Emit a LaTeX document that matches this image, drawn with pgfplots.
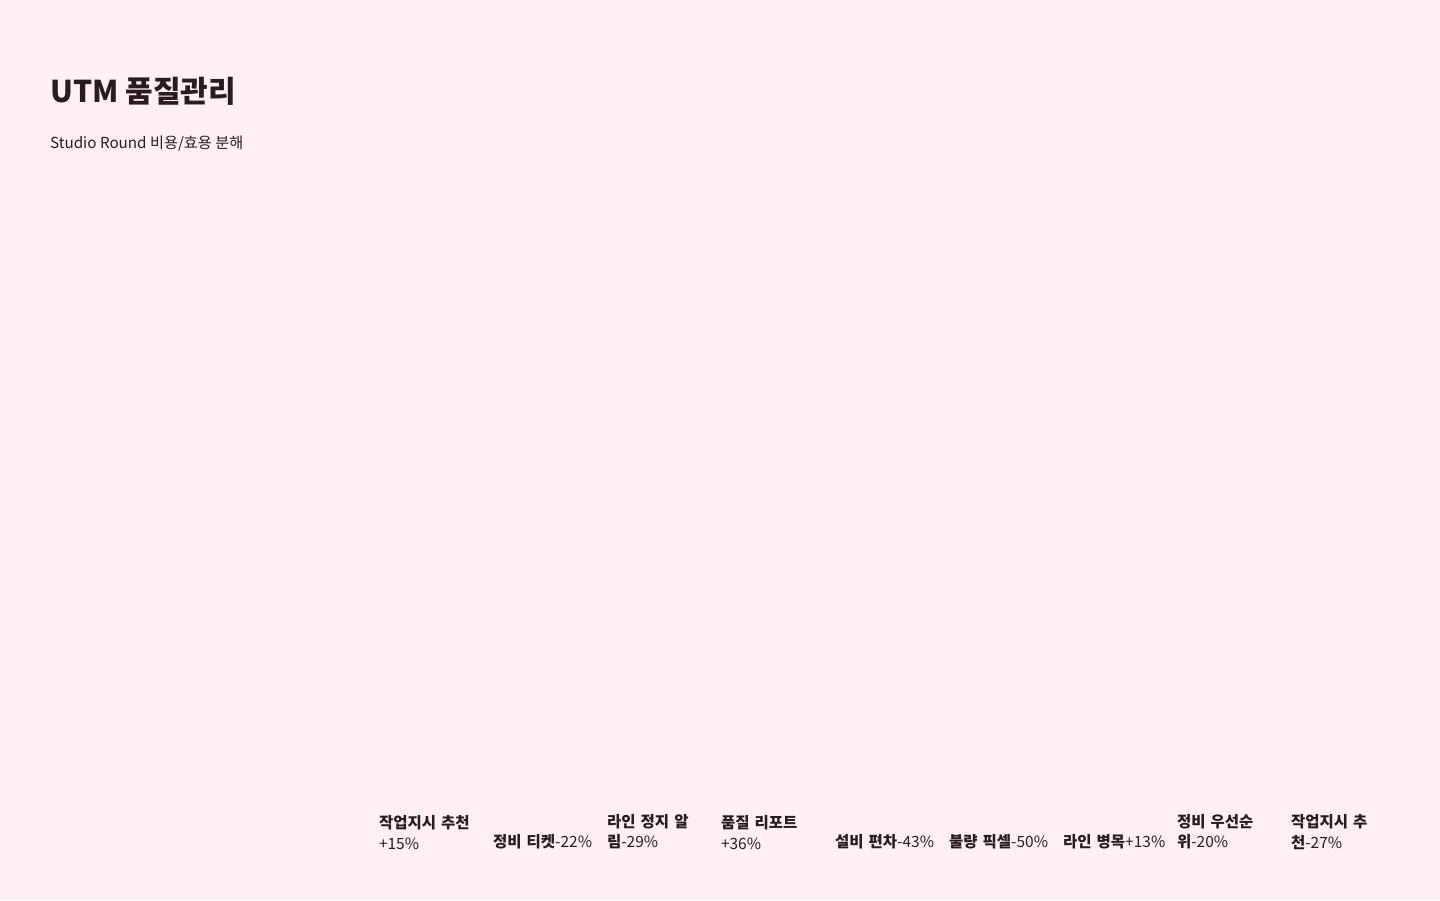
\documentclass[border=0pt]{standalone}
\usepackage{fontspec}
\setmainfont{Noto Sans CJK KR}
\usepackage{pgfplots}
\pgfplotsset{compat=1.18}
\definecolor{bg}{HTML}{FFF0F3}
\definecolor{ink}{HTML}{2A1A22}
\begin{document}
\begin{tikzpicture}[x=1bp,y=1bp]
  \fill[bg] (0,0) rectangle (1440,900);
  \node[anchor=base west, inner sep=0, text=ink,
        font=\fontsize{30bp}{36bp}\selectfont\bfseries] at (50,797) {UTM 품질관리};
  \node[anchor=base west, inner sep=0, text=ink,
        font=\fontsize{15.2bp}{20bp}\selectfont] at (50,751) {Studio Round 비용/효용 분해};
  \begin{axis}[
      at={(375bp,50.5bp)}, anchor=south west,
      width=1026bp, height=670bp, scale only axis,
      xmin=-0.5, xmax=8.5, ymin=-60, ymax=60,
      axis line style={draw=none}, tick style={draw=none},
      ytick=\empty,
      xtick={0,...,8},
      xticklabels={
        {\textbf{작업지시 추천}\\+15\%},
        {\textbf{정비 티켓}-22\%},
        {\textbf{라인 정지 알}\\\textbf{림}-29\%},
        {\textbf{품질 리포트}\\+36\%},
        {\textbf{설비 편차}-43\%},
        {\textbf{불량 픽셀}-50\%},
        {\textbf{라인 병목}+13\%},
        {\textbf{정비 우선순}\\\textbf{위}-20\%},
        {\textbf{작업지시 추}\\\textbf{천}-27\%}},
      xticklabel style={anchor=south, text width=106bp, align=left,
        inner sep=0pt, text=ink,
        font=\fontsize{15.5bp}{20.5bp}\selectfont},
    ]
    % bars are not drawn in the reference; values kept as data
    \addplot[ybar, bar width=60bp, draw=none, fill=none]
      coordinates {(0,15) (1,-22) (2,-29) (3,36) (4,-43) (5,-50) (6,13) (7,-20) (8,-27)};
  \end{axis}
\end{tikzpicture}
\end{document}
